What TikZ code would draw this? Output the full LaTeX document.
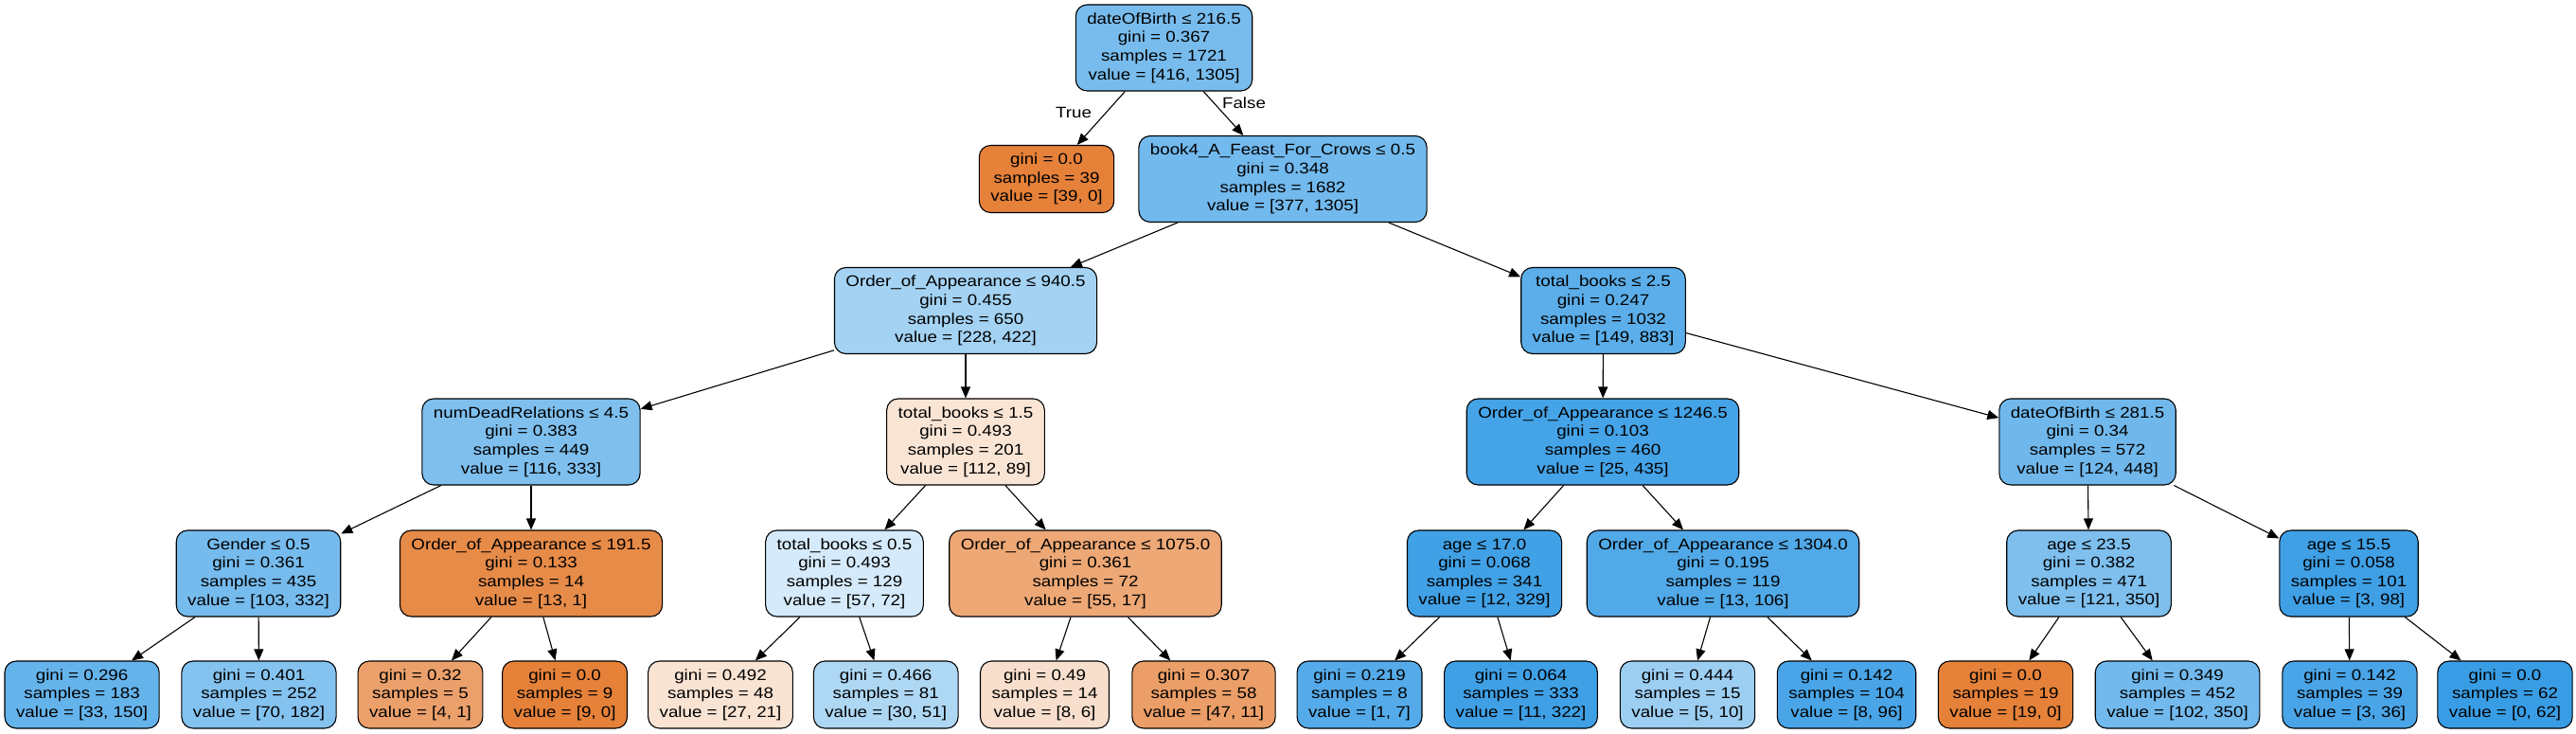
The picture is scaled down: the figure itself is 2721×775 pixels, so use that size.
\documentclass[tikz,border=0pt]{standalone}
\usepackage{fontspec}
\setmainfont{Liberation Sans}[FakeStretch=1.15]
\usetikzlibrary{arrows.meta}
\definecolor{orng}{RGB}{229,129,57}
\definecolor{blu}{RGB}{57,157,229}

\begin{document}
\begin{tikzpicture}[
x=1pt, y=-1pt,
font=\fontsize{16.3pt}{19.6pt}\selectfont,
split/.style={rectangle, draw, rounded corners=12pt, align=center, inner xsep=12pt, minimum height=91pt, line width=1.1pt},
leaf/.style={split, minimum height=71pt},
link/.style={draw, line width=1.1pt, -{Triangle[length=12pt,width=10pt]}}
]
\fill[white] (0,0) rectangle (2721,775);

% root and first split
\node[split, fill=blu!68] (t) at (1229.5,50.5) {dateOfBirth ≤ 216.5\\gini = 0.367\\samples = 1721\\value = [416, 1305]};
\node[leaf, fill=orng] (tl) at (1105.5,189) {gini = 0.0\\samples = 39\\value = [39, 0]};
\node[split, fill=blu!71] (tr) at (1355,189) {book4\_A\_Feast\_For\_Crows ≤ 0.5\\gini = 0.348\\samples = 1682\\value = [377, 1305]};

\node[split, fill=blu!46] (trl) at (1020,328) {Order\_of\_Appearance ≤ 940.5\\gini = 0.455\\samples = 650\\value = [228, 422]};
\node[split, fill=blu!83] (trr) at (1693.5,328) {total\_books ≤ 2.5\\gini = 0.247\\samples = 1032\\value = [149, 883]};

\node[split, fill=blu!65] (trll) at (561,466.5) {numDeadRelations ≤ 4.5\\gini = 0.383\\samples = 449\\value = [116, 333]};
\node[split, fill=orng!21] (trlr) at (1020,466.5) {total\_books ≤ 1.5\\gini = 0.493\\samples = 201\\value = [112, 89]};
\node[split, fill=blu!94] (trrl) at (1693,466.5) {Order\_of\_Appearance ≤ 1246.5\\gini = 0.103\\samples = 460\\value = [25, 435]};
\node[split, fill=blu!72] (trrr) at (2205,466.5) {dateOfBirth ≤ 281.5\\gini = 0.34\\samples = 572\\value = [124, 448]};

\node[split, fill=blu!69] (trlll) at (273,605.5) {Gender ≤ 0.5\\gini = 0.361\\samples = 435\\value = [103, 332]};
\node[split, fill=orng!92] (trllr) at (561,605.5) {Order\_of\_Appearance ≤ 191.5\\gini = 0.133\\samples = 14\\value = [13, 1]};
\node[split, fill=blu!21] (trlrl) at (892,605.5) {total\_books ≤ 0.5\\gini = 0.493\\samples = 129\\value = [57, 72]};
\node[split, fill=orng!69] (trlrr) at (1146.5,605.5) {Order\_of\_Appearance ≤ 1075.0\\gini = 0.361\\samples = 72\\value = [55, 17]};
\node[split, fill=blu!96] (trrll) at (1568,605.5) {age ≤ 17.0\\gini = 0.068\\samples = 341\\value = [12, 329]};
\node[split, fill=blu!88] (trrlr) at (1820,605.5) {Order\_of\_Appearance ≤ 1304.0\\gini = 0.195\\samples = 119\\value = [13, 106]};
\node[split, fill=blu!65] (trrrl) at (2206.5,605.5) {age ≤ 23.5\\gini = 0.382\\samples = 471\\value = [121, 350]};
\node[split, fill=blu!97] (trrrr) at (2481,605.5) {age ≤ 15.5\\gini = 0.058\\samples = 101\\value = [3, 98]};

% bottom row
\node[leaf, fill=blu!78] (trllll) at (86.6,733.5) {gini = 0.296\\samples = 183\\value = [33, 150]};
\node[leaf, fill=blu!62] (trlllr) at (273.5,733.5) {gini = 0.401\\samples = 252\\value = [70, 182]};
\node[leaf, fill=orng!75] (trllrl) at (444,733.5) {gini = 0.32\\samples = 5\\value = [4, 1]};
\node[leaf, fill=orng] (trllrr) at (596.6,733.5) {gini = 0.0\\samples = 9\\value = [9, 0]};
\node[leaf, fill=orng!22] (trlrll) at (761,733.5) {gini = 0.492\\samples = 48\\value = [27, 21]};
\node[leaf, fill=blu!41] (trlrlr) at (935.7,733.5) {gini = 0.466\\samples = 81\\value = [30, 51]};
\node[leaf, fill=orng!25] (trlrrl) at (1103.5,733.5) {gini = 0.49\\samples = 14\\value = [8, 6]};
\node[leaf, fill=orng!77] (trlrrr) at (1271.5,733.5) {gini = 0.307\\samples = 58\\value = [47, 11]};
\node[leaf, fill=blu!86] (trrlll) at (1436,733.5) {gini = 0.219\\samples = 8\\value = [1, 7]};
\node[leaf, fill=blu!97] (trrllr) at (1606.5,733.5) {gini = 0.064\\samples = 333\\value = [11, 322]};
\node[leaf, fill=blu!50] (trrlrl) at (1782.5,733.5) {gini = 0.444\\samples = 15\\value = [5, 10]};
\node[leaf, fill=blu!92] (trrlrr) at (1950.5,733.5) {gini = 0.142\\samples = 104\\value = [8, 96]};
\node[leaf, fill=orng] (trrrll) at (2118.5,733.5) {gini = 0.0\\samples = 19\\value = [19, 0]};
\node[leaf, fill=blu!71] (trrrlr) at (2300,733.5) {gini = 0.349\\samples = 452\\value = [102, 350]};
\node[leaf, fill=blu!92] (trrrrl) at (2482,733.5) {gini = 0.142\\samples = 39\\value = [3, 36]};
\node[leaf, fill=blu] (trrrrr) at (2646,733.5) {gini = 0.0\\samples = 62\\value = [0, 62]};

\node (yes) at (1134,119) {True};
\node (no) at (1314,109) {False};

\draw[link] (t) -- (tl);
\draw[link] (t) -- (tr);
\draw[link] (tr) -- (trl);
\draw[link] (tr) -- (trr);
\draw[link] (trl) -- (trll);
\draw[link] (trl) -- (trlr);
\draw[link] (trr) -- (trrl);
\draw[link] (trr) -- (trrr);
\draw[link] (trll) -- (trlll);
\draw[link] (trll) -- (trllr);
\draw[link] (trlr) -- (trlrl);
\draw[link] (trlr) -- (trlrr);
\draw[link] (trrl) -- (trrll);
\draw[link] (trrl) -- (trrlr);
\draw[link] (trrr) -- (trrrl);
\draw[link] (trrr) -- (trrrr);
\draw[link] (trlll) -- (trllll);
\draw[link] (trlll) -- (trlllr);
\draw[link] (trllr) -- (trllrl);
\draw[link] (trllr) -- (trllrr);
\draw[link] (trlrl) -- (trlrll);
\draw[link] (trlrl) -- (trlrlr);
\draw[link] (trlrr) -- (trlrrl);
\draw[link] (trlrr) -- (trlrrr);
\draw[link] (trrll) -- (trrlll);
\draw[link] (trrll) -- (trrllr);
\draw[link] (trrlr) -- (trrlrl);
\draw[link] (trrlr) -- (trrlrr);
\draw[link] (trrrl) -- (trrrll);
\draw[link] (trrrl) -- (trrrlr);
\draw[link] (trrrr) -- (trrrrl);
\draw[link] (trrrr) -- (trrrrr);
\end{tikzpicture}
\end{document}
